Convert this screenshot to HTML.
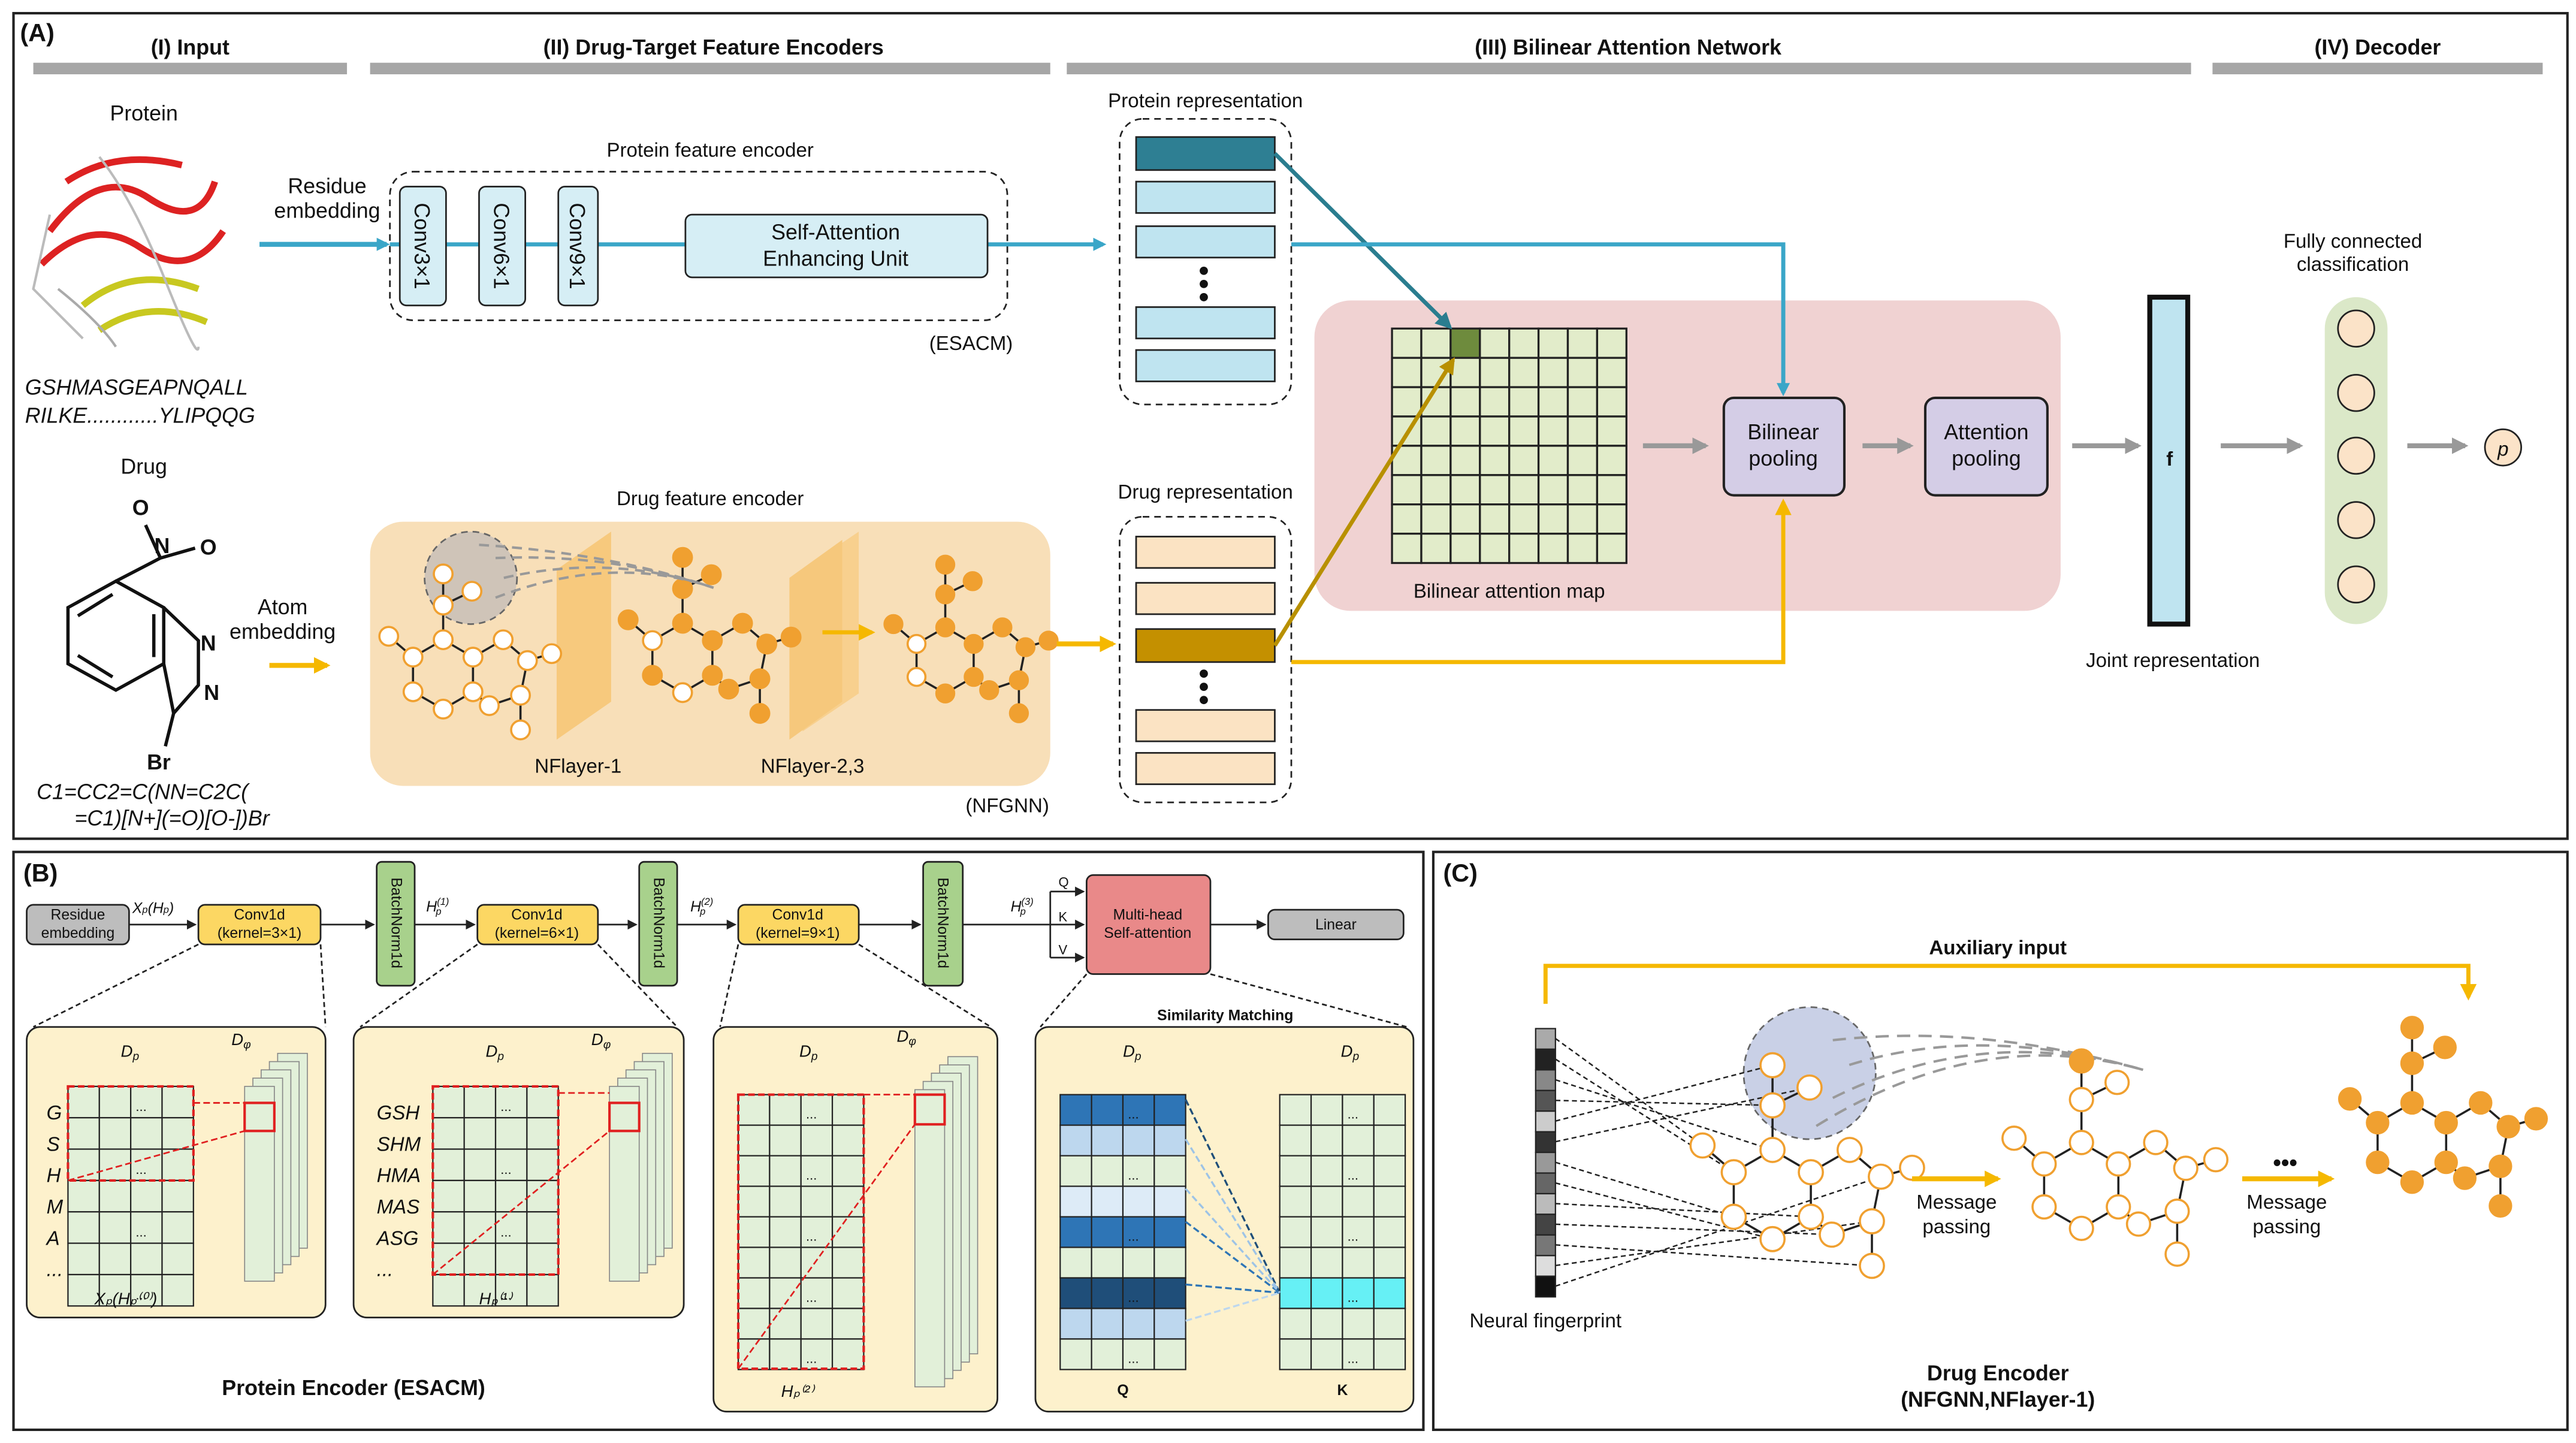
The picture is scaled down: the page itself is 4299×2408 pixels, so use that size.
<!DOCTYPE html>
<html><head><meta charset="utf-8"><style>
html,body{margin:0;padding:0;background:#fff}
svg{display:block}
text{font-family:"Liberation Sans",sans-serif;fill:#111}
.b{font-weight:bold}
.i{font-style:italic}
</style></head><body>
<svg id="s" width="4299" height="2408" viewBox="0 0 1560 874" xmlns="http://www.w3.org/2000/svg">
<defs>
<marker id="ab" markerWidth="8" markerHeight="8" refX="6" refY="4" orient="auto" markerUnits="userSpaceOnUse"><path d="M0,0L8,4L0,8z" fill="#3aa6c8"/></marker>
<marker id="ay" markerWidth="10" markerHeight="10" refX="8" refY="5" orient="auto" markerUnits="userSpaceOnUse"><path d="M0,0L10,5L0,10z" fill="#f5b800"/></marker>
<marker id="ag" markerWidth="10" markerHeight="10" refX="8" refY="5" orient="auto" markerUnits="userSpaceOnUse"><path d="M0,0L10,5L0,10z" fill="#999"/></marker>
<marker id="at" markerWidth="10" markerHeight="10" refX="8" refY="5" orient="auto" markerUnits="userSpaceOnUse"><path d="M0,0L10,5L0,10z" fill="#2a7d8f"/></marker>
<marker id="ad" markerWidth="10" markerHeight="10" refX="8" refY="5" orient="auto" markerUnits="userSpaceOnUse"><path d="M0,0L10,5L0,10z" fill="#b89000"/></marker>
<marker id="ak" markerWidth="6" markerHeight="6" refX="5" refY="3" orient="auto" markerUnits="userSpaceOnUse"><path d="M0,0L6,3L0,6z" fill="#222"/></marker>
</defs>
<rect x="8" y="8" width="1547" height="500" fill="none" stroke="#222" stroke-width="1.5"/>
<text x="12" y="25" font-size="15" class="b">(A)</text>
<g fill="#a6a6a6"><rect x="20" y="38" width="190" height="7"/><rect x="224" y="38" width="412" height="7"/><rect x="646" y="38" width="681" height="7"/><rect x="1340" y="38" width="200" height="7"/></g>
<g font-size="13" class="b" text-anchor="middle"><text x="115" y="33">(I) Input</text><text x="432" y="33">(II) Drug-Target Feature Encoders</text><text x="986" y="33">(III) Bilinear Attention Network</text><text x="1440" y="33">(IV) Decoder</text></g>
<text x="87" y="73" font-size="13" text-anchor="middle">Protein</text>
<g fill="none" stroke-width="4">
<path d="M30,140 Q60,100 90,120 T130,110" stroke="#d22"/><path d="M25,160 Q55,130 85,150 T135,140" stroke="#d22"/>
<path d="M40,110 Q70,90 110,100" stroke="#d22"/><path d="M50,185 Q80,160 120,175" stroke="#c8c820"/>
<path d="M60,200 Q90,180 125,195" stroke="#c8c820"/><path d="M35,175 Q60,195 70,210" stroke="#aaa" stroke-width="1.5"/>
<path d="M60,95 Q80,120 100,170 T120,210" stroke="#bbb" stroke-width="1.5"/><path d="M30,130 L20,175 L50,205" stroke="#bbb" stroke-width="1.5"/>
</g>
<g font-size="13" class="i"><text x="15" y="239">GSHMASGEAPNQALL</text><text x="15" y="256">RILKE............YLIPQQG</text></g>
<g font-size="13" text-anchor="middle"><text x="198" y="117">Residue</text><text x="198" y="132">embedding</text><text x="171" y="372">Atom</text><text x="171" y="387">embedding</text></g>
<line x1="157" y1="148" x2="234" y2="148" stroke="#3aa6c8" stroke-width="3" marker-end="url(#ab)"/>
<text x="430" y="95" font-size="12" text-anchor="middle">Protein feature encoder</text>
<rect x="236" y="104" width="374" height="90" rx="14" fill="none" stroke="#222" stroke-dasharray="4,3"/>
<line x1="236" y1="148" x2="668" y2="148" stroke="#3aa6c8" stroke-width="2.5" marker-end="url(#ab)"/>
<g fill="#d6eef5" stroke="#222"><rect x="242" y="113" width="28" height="72" rx="4"/><rect x="290" y="113" width="28" height="72" rx="4"/><rect x="338" y="113" width="24" height="72" rx="4"/><rect x="415" y="130" width="183" height="38" rx="4"/></g>
<g font-size="13" text-anchor="middle"><text transform="translate(251,149) rotate(90)">Conv3×1</text><text transform="translate(299,149) rotate(90)">Conv6×1</text><text transform="translate(345,149) rotate(90)">Conv9×1</text>
<text x="506" y="145">Self-Attention</text><text x="506" y="161">Enhancing Unit</text></g>
<text x="588" y="212" font-size="12" text-anchor="middle">(ESACM)</text>
<text x="730" y="65" font-size="12" text-anchor="middle">Protein representation</text>
<rect x="678" y="72" width="104" height="173" rx="14" fill="none" stroke="#222" stroke-dasharray="4,3"/>
<g stroke="#222"><rect x="688" y="83" width="84" height="20" fill="#2e7f93"/><rect x="688" y="110" width="84" height="19" fill="#bfe4f0"/><rect x="688" y="137" width="84" height="19" fill="#bfe4f0"/><rect x="688" y="186" width="84" height="19" fill="#bfe4f0"/><rect x="688" y="212" width="84" height="19" fill="#bfe4f0"/></g>
<g fill="#111"><circle cx="729" cy="164" r="2.5"/><circle cx="729" cy="172" r="2.5"/><circle cx="729" cy="180" r="2.5"/></g>
<rect x="796" y="182" width="452" height="188" rx="22" fill="#f0d2d2"/>
<g id="grid"></g>
<text x="914" y="362" font-size="12" text-anchor="middle">Bilinear attention map</text>
<g fill="#d4cde6" stroke="#222" stroke-width="1.5"><rect x="1044" y="241" width="73" height="59" rx="6"/><rect x="1166" y="241" width="74" height="59" rx="6"/></g>
<g font-size="13" text-anchor="middle"><text x="1080" y="266">Bilinear</text><text x="1080" y="282">pooling</text><text x="1203" y="266">Attention</text><text x="1203" y="282">pooling</text></g>
<g stroke="#999" stroke-width="3" marker-end="url(#ag)"><line x1="995" y1="270" x2="1033" y2="270"/><line x1="1128" y1="270" x2="1157" y2="270"/><line x1="1255" y1="270" x2="1295" y2="270"/><line x1="1345" y1="270" x2="1393" y2="270"/><line x1="1458" y1="270" x2="1493" y2="270"/></g>
<rect x="1302" y="180" width="23" height="198" fill="#bfe4f0" stroke="#111" stroke-width="3"/>
<text x="1314" y="282" font-size="12" class="b" text-anchor="middle">f</text>
<text x="1316" y="404" font-size="12" text-anchor="middle">Joint representation</text>
<g font-size="12" text-anchor="middle"><text x="1425" y="150">Fully connected</text><text x="1425" y="164">classification</text></g>
<rect x="1408" y="180" width="38" height="198" rx="19" fill="#dbe8c8"/>
<g fill="#fbe3c8" stroke="#222"><circle cx="1427" cy="199" r="11"/><circle cx="1427" cy="238" r="11"/><circle cx="1427" cy="276" r="11"/><circle cx="1427" cy="315" r="11"/><circle cx="1427" cy="354" r="11"/><circle cx="1516" cy="271" r="11"/></g>
<text x="1516" y="276" font-size="12" class="i" text-anchor="middle">p</text>
<line x1="772" y1="93" x2="878" y2="198" stroke="#2a7d8f" stroke-width="2.5" marker-end="url(#at)"/>
<polyline points="782,148 1080,148 1080,238" fill="none" stroke="#3aa6c8" stroke-width="2.5" marker-end="url(#ab)"/>
<text x="87" y="287" font-size="13" text-anchor="middle">Drug</text>
<g fill="none" stroke="#111" stroke-width="2">
<path d="M70,352 L99,368 L99,402 L70,418 L41,402 L41,368 Z"/>
<path d="M47,373 L68,360 M47,397 L68,410 M93,372 L93,398"/>
<path d="M99,368 L120,388 L120,415 L105,432 L99,402"/>
<path d="M70,352 L97,338 M105,432 L100,452 M97,338 L88,318 M97,338 L118,332"/>
</g>
<g font-size="13" class="b" text-anchor="middle"><text x="85" y="312" fill="#c00">O</text><text x="98" y="335" fill="#1a3dd1">N</text><text x="126" y="336" fill="#c00">O</text><text x="126" y="394" fill="#1a3dd1">N</text><text x="128" y="424" fill="#1a3dd1">N</text><text x="96" y="466" fill="#a01818">Br</text></g>
<g font-size="13" class="i"><text x="22" y="484">C1=CC2=C(NN=C2C(</text><text x="45" y="500">=C1)[N+](=O)[O-])Br</text></g>
<line x1="163" y1="403" x2="198" y2="403" stroke="#f5b800" stroke-width="3" marker-end="url(#ay)"/>
<text x="430" y="306" font-size="12" text-anchor="middle">Drug feature encoder</text>
<rect x="224" y="316" width="412" height="160" rx="20" fill="#f8dfb8"/>
<g fill="#f6c36e" opacity="0.8"><polygon points="337,345 370,322 370,425 337,448"/><polygon points="478,350 510,327 510,425 478,448"/><polygon points="486,345 520,322 520,420 486,443" opacity="0.7"/></g>
<circle cx="285" cy="350" r="28" fill="#cfc4b8" stroke="#666" stroke-dasharray="4,3"/>
<g id="molA"></g>
<g font-size="12" text-anchor="middle"><text x="350" y="468">NFlayer-1</text><text x="492" y="468">NFlayer-2,3</text><text x="610" y="492">(NFGNN)</text></g>
<line x1="498" y1="383" x2="528" y2="383" stroke="#f5b800" stroke-width="2.5" marker-end="url(#ay)"/>
<line x1="640" y1="390" x2="674" y2="390" stroke="#f5b800" stroke-width="3" marker-end="url(#ay)"/>
<text x="730" y="302" font-size="12" text-anchor="middle">Drug representation</text>
<rect x="678" y="313" width="104" height="173" rx="14" fill="none" stroke="#222" stroke-dasharray="4,3"/>
<g stroke="#222"><rect x="688" y="325" width="84" height="19" fill="#fbe3c3"/><rect x="688" y="353" width="84" height="19" fill="#fbe3c3"/><rect x="688" y="381" width="84" height="20" fill="#c49000"/><rect x="688" y="430" width="84" height="19" fill="#fbe3c3"/><rect x="688" y="456" width="84" height="19" fill="#fbe3c3"/></g>
<g fill="#111"><circle cx="729" cy="408" r="2.5"/><circle cx="729" cy="416" r="2.5"/><circle cx="729" cy="424" r="2.5"/></g>
<line x1="772" y1="391" x2="880" y2="218" stroke="#b89000" stroke-width="2.5" marker-end="url(#ad)"/>
<polyline points="782,401 1080,401 1080,304" fill="none" stroke="#f5b800" stroke-width="2.5" marker-end="url(#ay)"/>

<rect x="8" y="516" width="854" height="350" fill="none" stroke="#222" stroke-width="1.5"/>
<text x="14" y="534" font-size="15" class="b">(B)</text>
<g stroke="#222" stroke-width="1"><line x1="78" y1="560" x2="118" y2="560" marker-end="url(#ak)"/><line x1="194" y1="560" x2="226" y2="560" marker-end="url(#ak)"/><line x1="251" y1="560" x2="287" y2="560" marker-end="url(#ak)"/><line x1="362" y1="560" x2="385" y2="560" marker-end="url(#ak)"/><line x1="410" y1="560" x2="445" y2="560" marker-end="url(#ak)"/><line x1="520" y1="560" x2="557" y2="560" marker-end="url(#ak)"/><line x1="583" y1="560" x2="636" y2="560"/><line x1="636" y1="540" x2="636" y2="580"/><line x1="636" y1="540" x2="656" y2="540" marker-end="url(#ak)"/><line x1="636" y1="560" x2="656" y2="560" marker-end="url(#ak)"/><line x1="636" y1="580" x2="656" y2="580" marker-end="url(#ak)"/><line x1="733" y1="560" x2="766" y2="560" marker-end="url(#ak)"/></g>
<rect x="16" y="548" width="62" height="24" rx="4" fill="#bdbdbd" stroke="#222"/>
<g font-size="9" text-anchor="middle"><text x="47" y="557">Residue</text><text x="47" y="568">embedding</text></g>
<g fill="#fcd763" stroke="#222"><rect x="120" y="548" width="74" height="24" rx="4"/><rect x="289" y="548" width="73" height="24" rx="4"/><rect x="447" y="548" width="73" height="24" rx="4"/></g>
<g font-size="9" text-anchor="middle"><text x="157" y="557">Conv1d</text><text x="157" y="568">(kernel=3×1)</text><text x="325" y="557">Conv1d</text><text x="325" y="568">(kernel=6×1)</text><text x="483" y="557">Conv1d</text><text x="483" y="568">(kernel=9×1)</text></g>
<g fill="#a8d18c" stroke="#222"><rect x="228" y="522" width="23" height="75" rx="3"/><rect x="387" y="522" width="23" height="75" rx="3"/><rect x="559" y="522" width="24" height="75" rx="3"/></g>
<g font-size="9" text-anchor="middle"><text transform="translate(237,559) rotate(90)">BatchNorm1d</text><text transform="translate(396,559) rotate(90)">BatchNorm1d</text><text transform="translate(568,559) rotate(90)">BatchNorm1d</text></g>
<rect x="658" y="530" width="75" height="60" rx="4" fill="#e98989" stroke="#222"/>
<g font-size="9" text-anchor="middle"><text x="695" y="557">Multi-head</text><text x="695" y="568">Self-attention</text></g>
<rect x="768" y="551" width="82" height="18" rx="4" fill="#bdbdbd" stroke="#222"/>
<text x="809" y="563" font-size="9" text-anchor="middle">Linear</text>
<g font-size="9" class="i"><text x="80" y="553">X<tspan font-size="6">p</tspan>(H<tspan font-size="6">p</tspan>)</text><text x="258" y="552">H<tspan font-size="6" dy="-4">(1)</tspan><tspan font-size="6" dy="6" dx="-8">p</tspan></text><text x="418" y="552">H<tspan font-size="6" dy="-4">(2)</tspan><tspan font-size="6" dy="6" dx="-8">p</tspan></text><text x="612" y="552">H<tspan font-size="6" dy="-4">(3)</tspan><tspan font-size="6" dy="6" dx="-8">p</tspan></text></g>
<g font-size="8"><text x="641" y="537">Q</text><text x="641" y="558">K</text><text x="641" y="578">V</text></g>
<g stroke="#222" stroke-dasharray="3,2"><line x1="120" y1="572" x2="20" y2="622"/><line x1="194" y1="572" x2="197" y2="622"/><line x1="289" y1="572" x2="218" y2="622"/><line x1="362" y1="572" x2="410" y2="622"/><line x1="447" y1="572" x2="436" y2="622"/><line x1="520" y1="572" x2="600" y2="622"/><line x1="658" y1="590" x2="630" y2="622"/><line x1="733" y1="590" x2="852" y2="622"/></g>
<g fill="#fdf1cc" stroke="#222"><rect x="16" y="622" width="181" height="176" rx="8"/><rect x="214" y="622" width="200" height="176" rx="8"/><rect x="432" y="622" width="172" height="233" rx="8"/><rect x="627" y="622" width="229" height="233" rx="8"/></g>
<g id="bgrids"></g>
<text x="742" y="618" font-size="9" class="b" text-anchor="middle">Similarity Matching</text>
<text x="214" y="845" font-size="13" class="b" text-anchor="middle">Protein Encoder (ESACM)</text>

<rect x="868" y="516" width="687" height="350" fill="none" stroke="#222" stroke-width="1.5"/>
<text x="874" y="534" font-size="15" class="b">(C)</text>
<text x="1210" y="578" font-size="12" class="b" text-anchor="middle">Auxiliary input</text>
<polyline points="936,608 936,585 1495,585 1495,604" fill="none" stroke="#f5b800" stroke-width="2.5" marker-end="url(#ay)"/>
<circle cx="1096" cy="650" r="40" fill="#c9d0e6" stroke="#666" stroke-dasharray="4,3"/>
<g id="fp"></g>
<g id="molC"></g>
<text x="936" y="804" font-size="12" text-anchor="middle">Neural fingerprint</text>
<g font-size="12" text-anchor="middle"><text x="1185" y="732">Message</text><text x="1185" y="747">passing</text><text x="1385" y="732">Message</text><text x="1385" y="747">passing</text></g>
<line x1="1158" y1="714" x2="1210" y2="714" stroke="#f5b800" stroke-width="3" marker-end="url(#ay)"/>
<line x1="1358" y1="714" x2="1412" y2="714" stroke="#f5b800" stroke-width="3" marker-end="url(#ay)"/>
<text x="1384" y="709" font-size="14" class="b" text-anchor="middle">•••</text>
<g font-size="13" class="b" text-anchor="middle"><text x="1210" y="836">Drug Encoder</text><text x="1210" y="852">(NFGNN,NFlayer-1)</text></g>
</svg>
<script>
var NS="http://www.w3.org/2000/svg";
function el(p,t,a,txt){var e=document.createElementNS(NS,t);for(var k in a)e.setAttribute(k,a[k]);if(txt!==undefined)e.textContent=txt;document.getElementById(p).appendChild(e);return e;}
var gx=843,gy=199,cs=17.75;
for(var r=0;r<8;r++)for(var c=0;c<8;c++)el("grid","rect",{x:gx+c*cs,y:gy+r*cs,width:cs,height:cs,fill:(r==0&&c==2)?"#6e8b3d":"#e2ecca",stroke:"#222","stroke-width":1.2});
var P=[[0,0],[0.87,-0.5],[1.73,0],[1.73,1],[0.87,1.5],[0,1],[2.6,-0.5],[3.3,0.1],[3.1,1.1],[2.2,1.4],[0.87,-1.5],[0.87,-2.4],[1.7,-1.9],[-0.7,-0.6],[3.1,2.1],[4.0,-0.1]];
var E=[[0,1],[1,2],[2,3],[3,4],[4,5],[5,0],[2,6],[6,7],[7,8],[8,9],[9,3],[1,10],[10,11],[10,12],[0,13],[8,14],[7,15]];
function mol(g,ox,oy,s,filled,col,hollowSet){
 E.forEach(function(e){var a=P[e[0]],b=P[e[1]];el(g,"line",{x1:ox+a[0]*s,y1:oy+a[1]*s,x2:ox+b[0]*s,y2:oy+b[1]*s,stroke:"#222","stroke-width":1.3});});
 P.forEach(function(p,i){var f=filled; if(hollowSet&&hollowSet.indexOf(i)>=0)f=!filled; el(g,"circle",{cx:ox+p[0]*s,cy:oy+p[1]*s,r:s*0.27,fill:f?col:"#fff",stroke:col,"stroke-width":1.3});});
}
mol("molA",250,398,21,false,"#f0a030");
mol("molA",395,388,21,true,"#f0a030",[0,4]);
mol("molA",555,390,20,true,"#f0a030",[0,5]);
[[300,338],[305,350],[300,362],[290,330]].forEach(function(p){el("molA","path",{d:"M"+p[0]+","+p[1]+" Q370,335 432,356",fill:"none",stroke:"#999","stroke-width":1.5,"stroke-dasharray":"6,4"});});
var fpc=["#aaa","#222","#888","#555","#ccc","#333","#999","#666","#bbb","#444","#777","#ddd","#111"];
for(var i=0;i<13;i++)el("fp","rect",{x:930,y:623+i*12.5,width:12,height:12.5,fill:fpc[i],stroke:"#222","stroke-width":0.8});
mol("molC",1050,710,27,false,"#f0a030");
for(var i=0;i<13;i++){var t=P[[13,0,1,10,11,12,5,4,3,9,14,8,7][i]];el("fp","line",{x1:942,y1:629+i*12.5,x2:1050+t[0]*27,y2:710+t[1]*27,stroke:"#222","stroke-dasharray":"3,2","stroke-width":0.9});}
[[1110,630],[1120,645],[1110,665],[1100,682]].forEach(function(p){el("molC","path",{d:"M"+p[0]+","+p[1]+" Q1200,620 1298,648",fill:"none",stroke:"#999","stroke-width":1.5,"stroke-dasharray":"8,5"});});
mol("molC",1238,705,26,false,"#f0a030",[11]);
mol("molC",1440,680,24,true,"#f0a030");
function grid(x,y,cols,rows,cw,ch,fills){for(var r=0;r<rows;r++)for(var c=0;c<cols;c++){var f=(fills&&fills[r])?fills[r]:"#e2f0d9";el("bgrids","rect",{x:x+c*cw,y:y+r*ch,width:cw,height:ch,fill:f,stroke:"#222","stroke-width":0.8});if(c==2&&r%2==0)el("bgrids","text",{x:x+c*cw+3,y:y+r*ch+ch-4,"font-size":8},"...");}}
function stackBars(x,y,h){for(var k=4;k>=0;k--)el("bgrids","rect",{x:x+k*5,y:y+k*-5+10,width:18,height:h,fill:"#e2f0d9",stroke:"#888","stroke-width":0.6});}
grid(41,658,4,7,19,19);stackBars(148,648,118);
grid(262,658,4,7,19,19);stackBars(369,648,118);
grid(447,663,4,9,19,18.5);stackBars(554,650,180);
var qf=["#2e75b6","#bdd7ee",null,"#ddebf7","#2e75b6",null,"#1f4e79","#bdd7ee",null];
grid(642,663,4,9,19,18.5,qf);
grid(775,663,4,9,19,18.5,[null,null,null,null,null,null,"#66f0f5",null,null]);
["G","S","H","M","A","..."].forEach(function(t,i){el("bgrids","text",{x:28,y:678+i*19,"font-size":12,"font-style":"italic"},t);});
["GSH","SHM","HMA","MAS","ASG","..."].forEach(function(t,i){el("bgrids","text",{x:228,y:678+i*19,"font-size":12,"font-style":"italic"},t);});
el("bgrids","rect",{x:41,y:658,width:76,height:57,fill:"none",stroke:"#e02020","stroke-width":1.5,"stroke-dasharray":"4,2"});
el("bgrids","rect",{x:148,y:668,width:18,height:17,fill:"none",stroke:"#e02020","stroke-width":1.5});
el("bgrids","path",{d:"M117,668 L148,668 M41,715 L148,685",stroke:"#e02020","stroke-dasharray":"4,2",fill:"none"});
el("bgrids","rect",{x:262,y:658,width:76,height:114,fill:"none",stroke:"#e02020","stroke-width":1.5,"stroke-dasharray":"4,2"});
el("bgrids","rect",{x:369,y:668,width:18,height:17,fill:"none",stroke:"#e02020","stroke-width":1.5});
el("bgrids","path",{d:"M338,662 L369,662 M262,772 L369,685",stroke:"#e02020","stroke-dasharray":"4,2",fill:"none"});
el("bgrids","rect",{x:447,y:663,width:76,height:166,fill:"none",stroke:"#e02020","stroke-width":1.5,"stroke-dasharray":"4,2"});
el("bgrids","rect",{x:554,y:663,width:18,height:18,fill:"none",stroke:"#e02020","stroke-width":1.5});
el("bgrids","path",{d:"M523,663 L554,663 M447,829 L554,681",stroke:"#e02020","stroke-dasharray":"4,2",fill:"none"});
[[666,"#1f4e79"],[690,"#9dc3e6"],[740,"#2e75b6"],[778,"#2e75b6"],[800,"#bdd7ee"],[720,"#9dc3e6"]].forEach(function(a){el("bgrids","line",{x1:718,y1:a[0],x2:775,y2:783,stroke:a[1],"stroke-width":1.2,"stroke-dasharray":"4,2"});});
[[73,640],[140,633],[294,640],[358,633],[484,640],[543,631],[680,640],[812,640]].forEach(function(a){var t=el("bgrids","text",{x:a[0],y:a[1],"font-size":10,"font-style":"italic"},"D");var s=document.createElementNS(NS,"tspan");s.setAttribute("font-size","7");s.setAttribute("dy","2");s.textContent=(a[0]==140||a[0]==358||a[0]==543)?"φ":"p";t.appendChild(s);});
el("bgrids","text",{x:680,y:845,"font-size":9,"font-weight":"bold","text-anchor":"middle"},"Q");
el("bgrids","text",{x:813,y:845,"font-size":9,"font-weight":"bold","text-anchor":"middle"},"K");
el("bgrids","text",{x:57,y:790,"font-size":10,"font-style":"italic"},"X\u209a(H\u209a\u207d\u2070\u207e)");
el("bgrids","text",{x:290,y:790,"font-size":10,"font-style":"italic"},"H\u209a\u207d\u00b9\u207e");
el("bgrids","text",{x:473,y:846,"font-size":10,"font-style":"italic"},"H\u209a\u207d\u00b2\u207e");
</script>
</body></html>
